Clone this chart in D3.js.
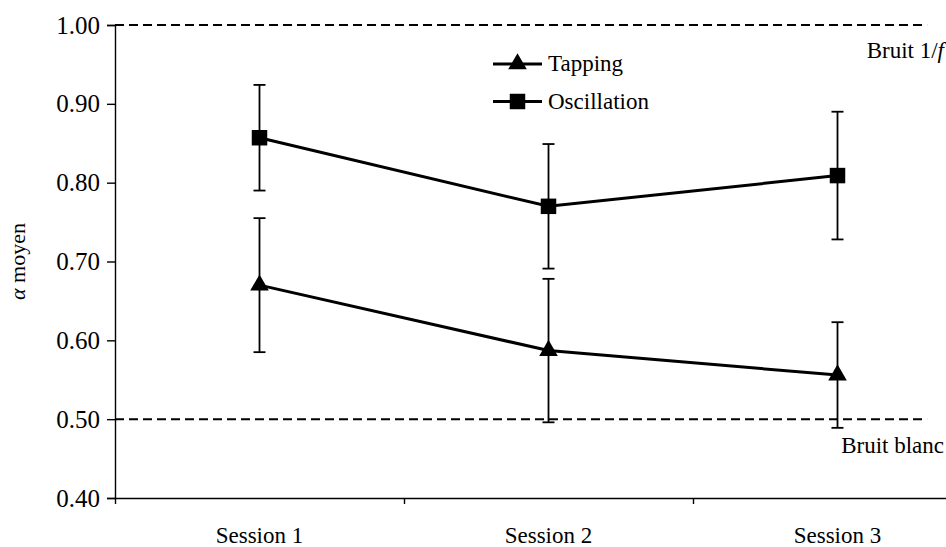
<!DOCTYPE html>
<html>
<head>
<meta charset="utf-8">
<script src="https://d3js.org/d3.v7.min.js"></script>
<style>
  body { margin: 0; background: #fff; }
</style>
</head>
<body>
<div id="chart"></div>
<script>
// DATA
const sessions = ["Session 1", "Session 2", "Session 3"];
const tapping = [0.670, 0.587, 0.556];
const tappingErr = [0.085, 0.091, 0.067];
const oscillation = [0.857, 0.770, 0.809];
const oscillationErr = [0.067, 0.079, 0.081];
const yTicks = [0.40, 0.50, 0.60, 0.70, 0.80, 0.90, 1.00];
const refValues = [1.00, 0.50];

const FONT = "'Liberation Serif', 'Times New Roman', 'DejaVu Serif', serif";
const width = 946, height = 547;
const margin = {top: 25, right: -36, bottom: 49, left: 115};

// SCALES
const xScale = d3.scaleLinear()
    .domain([0, sessions.length])
    .range([margin.left, width - margin.right]);

const yScale = d3.scaleLinear()
    .domain([0.40, 1.00])
    .range([height - margin.bottom, margin.top]);

const svg = d3.select("#chart")
    .append("svg")
    .attr("width", width)
    .attr("height", height)
    .style("font-family", FONT);

// DASHED REFERENCE LINES
svg.selectAll("line.ref")
    .data(refValues)
    .join("line")
    .attr("class", "ref")
    .attr("x1", xScale(0))
    .attr("x2", xScale(2.81))
    .attr("y1", d => yScale(d))
    .attr("y2", d => yScale(d))
    .attr("stroke", "#000")
    .attr("stroke-width", 2)
    .attr("stroke-dasharray", "9,5");

// reference labels (right aligned)
const r1 = svg.append("text")
    .attr("x", 944)
    .attr("y", yScale(1.00) + 33)
    .attr("text-anchor", "end")
    .style("font-family", FONT)
    .style("font-size", "23px");
r1.append("tspan").text("Bruit 1/");
r1.append("tspan").style("font-style", "italic").text("f");

svg.append("text")
    .attr("x", 944)
    .attr("y", yScale(0.50) + 34)
    .attr("text-anchor", "end")
    .style("font-family", FONT)
    .style("font-size", "23px")
    .text("Bruit blanc");

// AXES
const yAxis = d3.axisLeft(yScale)
    .tickValues(yTicks)
    .tickFormat(d3.format(".2f"))
    .tickSize(8)
    .tickPadding(7);

const xAxis = d3.axisBottom(xScale)
    .tickValues(d3.range(sessions.length + 1))
    .tickFormat("")
    .tickSizeInner(6)
    .tickSizeOuter(0);

const yAxisGroup = svg.append("g")
    .attr("transform", `translate(${margin.left}, 0)`)
    .call(yAxis)
    .attr("font-family", FONT);
yAxisGroup.selectAll("text")
    .style("font-family", FONT)
    .style("font-size", "25px");
yAxisGroup.select(".domain").attr("stroke-width", 1.4);
yAxisGroup.selectAll(".tick line").attr("stroke-width", 1.4);

const xAxisGroup = svg.append("g")
    .attr("transform", `translate(0, ${height - margin.bottom})`)
    .call(xAxis);
xAxisGroup.select(".domain").attr("stroke-width", 1.4);
xAxisGroup.selectAll(".tick line").attr("stroke-width", 1.4);

svg.selectAll("text.cat")
    .data(sessions)
    .join("text")
    .attr("class", "cat")
    .attr("x", (d, i) => xScale(i + 0.5))
    .attr("y", height - margin.bottom + 45)
    .attr("text-anchor", "middle")
    .style("font-family", FONT)
    .style("font-size", "23px")
    .text(d => d);

// y label
const yl = svg.append("text")
    .attr("transform", `translate(25, ${yScale(0.70)}) rotate(-90)`)
    .attr("text-anchor", "middle")
    .style("font-family", FONT)
    .style("font-size", "22px");
yl.append("tspan").style("font-style", "italic").text("α");
yl.append("tspan").text(" moyen");

// SERIES
const series = [
    {name: "Tapping", values: tapping, err: tappingErr, symbol: d3.symbolTriangle, size: 150},
    {name: "Oscillation", values: oscillation, err: oscillationErr, symbol: d3.symbolSquare, size: 240}
];

const line = d3.line()
    .x((d, i) => xScale(i + 0.5))
    .y(d => yScale(d));

series.forEach(s => {
    // error bars
    const eb = svg.append("g");
    s.values.forEach((v, i) => {
        const cx = xScale(i + 0.5);
        eb.append("line")
            .attr("x1", cx).attr("x2", cx)
            .attr("y1", yScale(v - s.err[i])).attr("y2", yScale(v + s.err[i]))
            .attr("stroke", "#000").attr("stroke-width", 1.8);
        [v - s.err[i], v + s.err[i]].forEach(e => {
            eb.append("line")
                .attr("x1", cx - 6).attr("x2", cx + 6)
                .attr("y1", yScale(e)).attr("y2", yScale(e))
                .attr("stroke", "#000").attr("stroke-width", 1.8);
        });
    });

    svg.append("path")
        .datum(s.values)
        .attr("fill", "none")
        .attr("stroke", "#000")
        .attr("stroke-width", 3)
        .attr("d", line);

    svg.selectAll(null)
        .data(s.values)
        .join("path")
        .attr("transform", (d, i) => `translate(${xScale(i + 0.5)}, ${yScale(d)})`)
        .attr("d", d3.symbol().type(s.symbol).size(s.size))
        .attr("fill", "#000");
});

// LEGEND
const legend = svg.append("g").attr("transform", "translate(493, 64)");
series.forEach((s, i) => {
    const g = legend.append("g").attr("transform", `translate(0, ${i * 37.5})`);
    g.append("line")
        .attr("x1", 0).attr("x2", 49)
        .attr("stroke", "#000").attr("stroke-width", 3);
    g.append("path")
        .attr("transform", "translate(24.5, 0)")
        .attr("d", d3.symbol().type(s.symbol).size(s.size))
        .attr("fill", "#000");
    g.append("text")
        .attr("x", 55)
        .attr("y", 7)
        .style("font-family", FONT)
        .style("font-size", "23px")
        .text(s.name);
});
</script>
</body>
</html>
